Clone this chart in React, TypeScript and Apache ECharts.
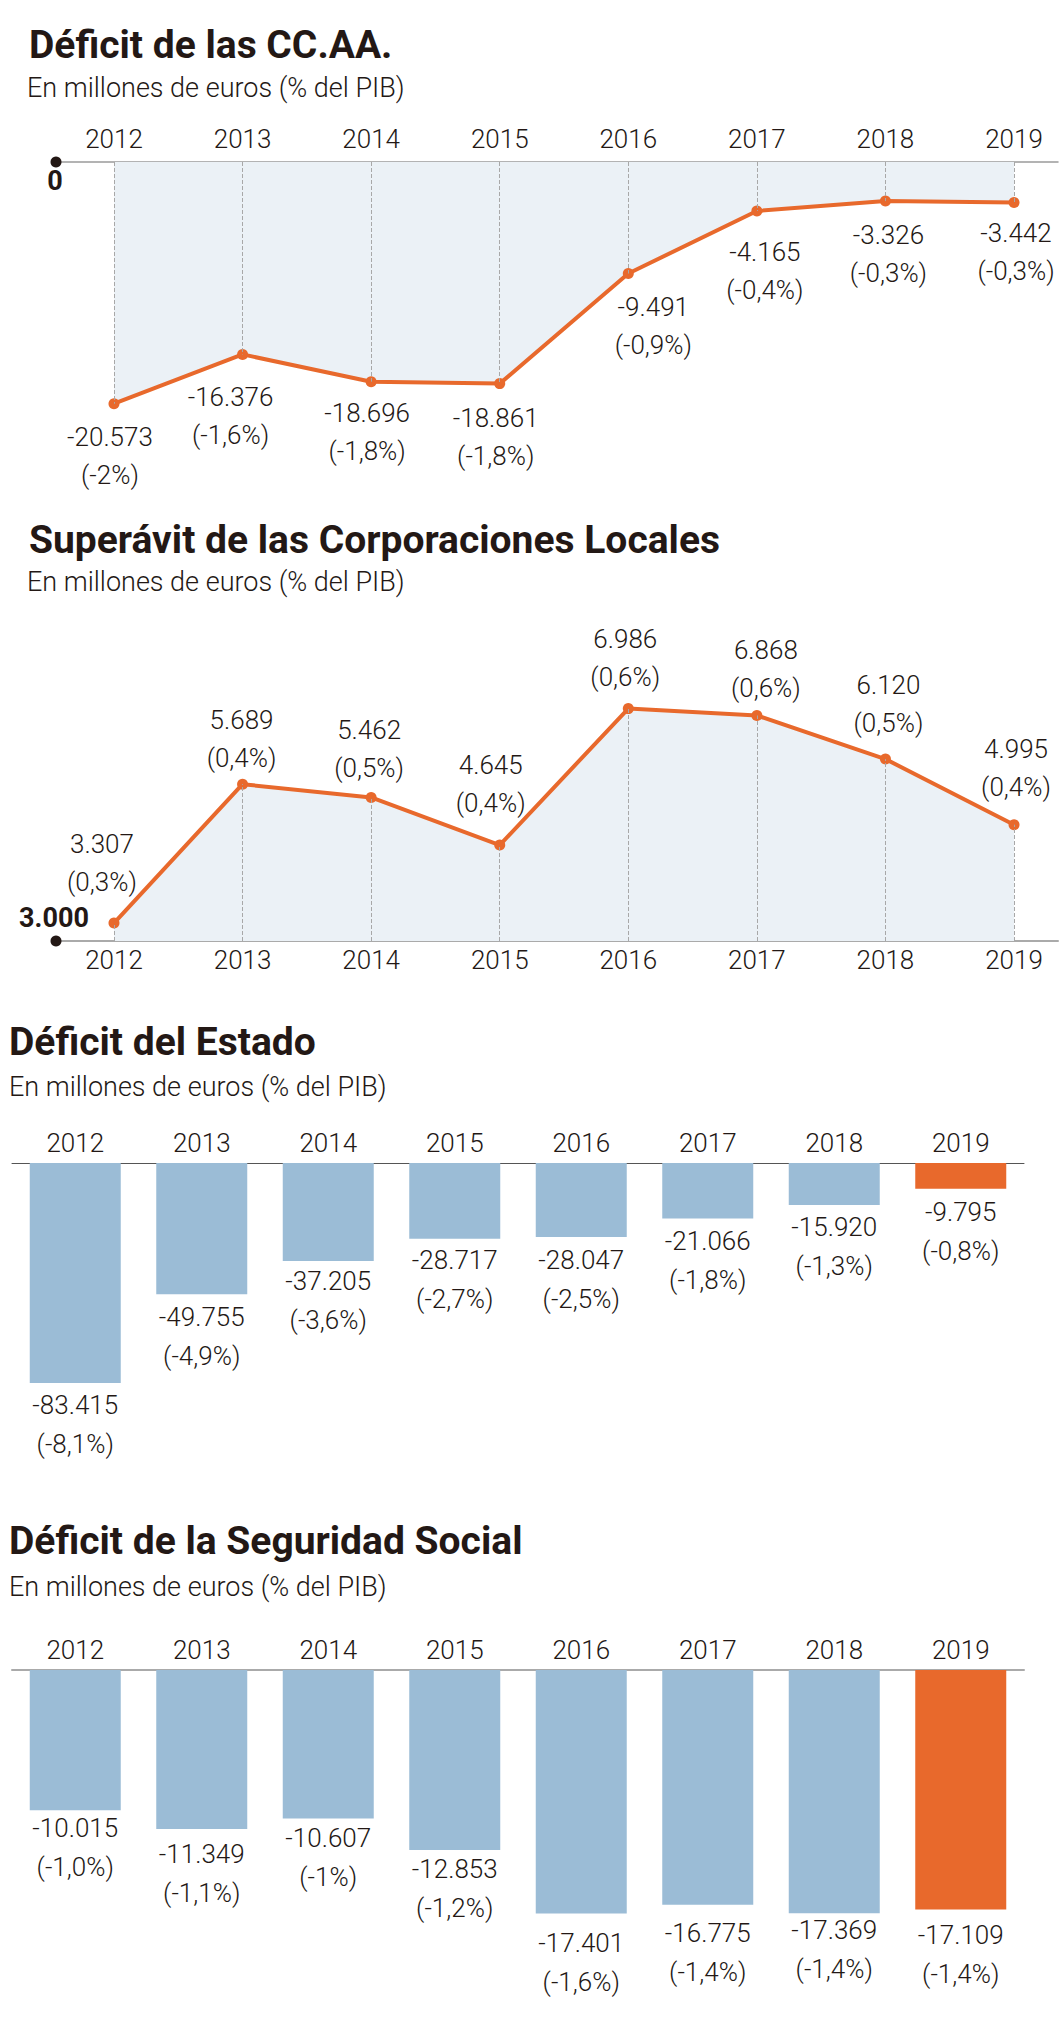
import React, { useEffect, useRef } from 'react';
import * as echarts from 'echarts';

// ---------- data ----------
const years = [2012, 2013, 2014, 2015, 2016, 2017, 2018, 2019];
const yearLabels = ['2012', '2013', '2014', '2015', '2016', '2017', '2018', '2019'];

const ccaaValues = [-20573, -16376, -18696, -18861, -9491, -4165, -3326, -3442];
const ccaaPct = ['-2%', '-1,6%', '-1,8%', '-1,8%', '-0,9%', '-0,4%', '-0,3%', '-0,3%'];

const localValues = [3307, 5689, 5462, 4645, 6986, 6868, 6120, 4995];
const localPct = ['0,3%', '0,4%', '0,5%', '0,4%', '0,6%', '0,6%', '0,5%', '0,4%'];

const estadoValues = [-83415, -49755, -37205, -28717, -28047, -21066, -15920, -9795];
const estadoPct = ['-8,1%', '-4,9%', '-3,6%', '-2,7%', '-2,5%', '-1,8%', '-1,3%', '-0,8%'];

const ssValues = [-10015, -11349, -10607, -12853, -17401, -16775, -17369, -17109];
const ssPct = ['-1,0%', '-1,1%', '-1%', '-1,2%', '-1,6%', '-1,4%', '-1,4%', '-1,4%'];

const titles = [
  'Déficit de las CC.AA.',
  'Superávit de las Corporaciones Locales',
  'Déficit del Estado',
  'Déficit de la Seguridad Social',
];
const subtitle = 'En millones de euros (% del PIB)';

// ---------- label nudges (layout only) ----------
const ccaaNudge = [[-4, 8.5], [-12, 18.5], [-4, 6.5], [-4, 9.5], [25, 8.5], [8, 16.5], [3, 9.5], [2, 6.5]];
const localNudge = [[-12, -16.5], [-1, -1.5], [-2, -4.5], [-9, -17.5], [-3, -7.5], [9, -2.5], [3, -11.5], [2, -13.5]];
const estadoNudge = [2.5, 3.5, 0.5, 1.5, 3.5, 2.5, 2.5, 3.5];
const ssNudge = [-1.5, 5.5, 0.5, -0.5, 9.5, 8.5, -2.5, 5.5];

// ---------- style ----------
const TEXT = '#231815';
const ORANGE = '#E8692C';
const BLUE = '#9BBCD6';
const FILL = '#EBF1F6';
const FONT = 'Roboto, "Noto Sans", sans-serif';
const XMIN = 2011.549;
const XMAX = 2019.342;

const fmtEs = (v: number) => {
  const s = Math.abs(v).toString().replace(/\B(?=(\d{3})+(?!\d))/g, '.');
  return (v < 0 ? '-' : '') + s;
};

const labelText = {
  fontFamily: FONT,
  fontSize: 26,
  fontWeight: 300 as any,
  color: TEXT,
};

function makeTitle(text: string, left: number, capCenter: number) {
  return {
    text,
    left,
    top: capCenter - 19.5,
    padding: 0,
    textStyle: { fontFamily: FONT, fontSize: 39, fontWeight: 'bold', color: TEXT, lineHeight: 39 },
  };
}
function makeSub(left: number, capCenter: number) {
  return {
    text: subtitle,
    left,
    top: capCenter - 13.5,
    padding: 0,
    textStyle: { fontFamily: FONT, fontSize: 27, fontWeight: 300, color: TEXT, lineHeight: 27 },
  };
}

export default function App() {
  const ref = useRef<HTMLDivElement>(null);

  useEffect(() => {
    if (!ref.current) return;
    const chart = echarts.init(ref.current, undefined, { renderer: 'svg' });

    const yearAxisLabel = (margin: number) => ({
      ...labelText,
      margin,
      lineHeight: 26,
    });

    const option: any = {
      animation: false,
      backgroundColor: '#ffffff',
      title: [
        makeTitle(titles[0], 29, 45),
        makeSub(27, 88),
        makeTitle(titles[1], 29, 540),
        makeSub(27, 582),
        makeTitle(titles[2], 9, 1042),
        makeSub(9, 1087),
        makeTitle(titles[3], 9, 1541),
        makeSub(9, 1587),
      ],
      grid: [
        { left: 56, right: 6, top: 162, height: 293.75 },
        { left: 56, right: 6, top: 649.5, height: 291.5 },
        { left: 12, right: 40, top: 1163, height: 237.3 },
        { left: 12, right: 40, top: 1670, height: 280 },
      ],
      xAxis: [
        {
          gridIndex: 0,
          type: 'value',
          position: 'top',
          min: XMIN,
          max: XMAX,
          axisLine: { show: true, onZero: false, lineStyle: { color: '#9a9a9a', width: 1.5 } },
          axisTick: { show: false },
          splitLine: { show: false },
          axisLabel: {
            ...yearAxisLabel(10),
            customValues: years,
            formatter: (v: number) => String(Math.round(v)),
          },
        },
        {
          gridIndex: 1,
          type: 'value',
          position: 'bottom',
          min: XMIN,
          max: XMAX,
          axisLine: { show: true, onZero: false, lineStyle: { color: '#aaaaaa', width: 2 } },
          axisTick: { show: false },
          splitLine: { show: false },
          axisLabel: {
            ...yearAxisLabel(6),
            customValues: years,
            formatter: (v: number) => String(Math.round(v)),
          },
        },
        {
          gridIndex: 2,
          type: 'category',
          data: yearLabels,
          position: 'top',
          boundaryGap: true,
          axisLine: { show: true, onZero: false, lineStyle: { color: '#555555', width: 1 } },
          axisTick: { show: false },
          splitLine: { show: false },
          axisLabel: { ...yearAxisLabel(7), interval: 0 },
        },
        {
          gridIndex: 3,
          type: 'category',
          data: yearLabels,
          position: 'top',
          boundaryGap: true,
          axisLine: { show: true, onZero: false, lineStyle: { color: '#aaaaaa', width: 2 } },
          axisTick: { show: false },
          splitLine: { show: false },
          axisLabel: { ...yearAxisLabel(7), interval: 0 },
        },
      ],
      yAxis: [
        {
          gridIndex: 0,
          type: 'value',
          min: -25000,
          max: 0,
          axisLine: { show: false },
          axisTick: { show: false },
          splitLine: { show: false },
          axisLabel: {
            customValues: [0],
            formatter: (v: number) => fmtEs(v),
            fontFamily: FONT,
            fontSize: 27,
            fontWeight: 'bold',
            color: TEXT,
            align: 'center',
            verticalAlign: 'top',
            lineHeight: 26,
            padding: [6, 0, 0, 0],
            margin: 1,
          },
        },
        {
          gridIndex: 1,
          type: 'value',
          min: 3000,
          max: 8000,
          axisLine: { show: false },
          axisTick: { show: false },
          splitLine: { show: false },
          axisLabel: {
            customValues: [3000],
            formatter: (v: number) => fmtEs(v),
            fontFamily: FONT,
            fontSize: 27,
            fontWeight: 'bold',
            color: TEXT,
            align: 'center',
            verticalAlign: 'bottom',
            lineHeight: 26,
            padding: [0, 0, 10, 0],
            margin: 2,
          },
        },
        {
          gridIndex: 2,
          type: 'value',
          min: -90000,
          max: 0,
          show: false,
        },
        {
          gridIndex: 3,
          type: 'value',
          min: -20000,
          max: 0,
          show: false,
        },
      ],
      series: [
        {
          type: 'line',
          xAxisIndex: 0,
          yAxisIndex: 0,
          z: 3,
          data: years.map((y, i) => ({
            value: [y, ccaaValues[i]],
            label: { offset: ccaaNudge[i] },
          })),
          symbol: 'circle',
          symbolSize: 11,
          lineStyle: { color: ORANGE, width: 4 },
          itemStyle: { color: ORANGE },
          areaStyle: { color: FILL, opacity: 1, origin: 'auto' },
          label: {
            show: true,
            position: 'bottom',
            distance: 0,
            align: 'center',
            lineHeight: 38,
            ...labelText,
            formatter: (p: any) => `${fmtEs(ccaaValues[p.dataIndex])}\n(${ccaaPct[p.dataIndex]})`,
          },
          markLine: {
            silent: true,
            symbol: ['none', 'none'],
            label: { show: false },
            lineStyle: { type: 'dashed', color: '#a8a8a8', width: 1 },
            data: years.map((y, i) => [{ coord: [y, 0] }, { coord: [y, ccaaValues[i]] }]),
          },
          markPoint: {
            silent: true,
            symbol: 'circle',
            symbolSize: 11,
            itemStyle: { color: TEXT },
            label: { show: false },
            data: [{ coord: [XMIN, 0] }],
          },
        },
        {
          type: 'line',
          xAxisIndex: 1,
          yAxisIndex: 1,
          z: 3,
          data: years.map((y, i) => ({
            value: [y, localValues[i]],
            label: { offset: localNudge[i] },
          })),
          symbol: 'circle',
          symbolSize: 11,
          lineStyle: { color: ORANGE, width: 4 },
          itemStyle: { color: ORANGE },
          areaStyle: { color: FILL, opacity: 1, origin: 'start' },
          label: {
            show: true,
            position: 'top',
            distance: 0,
            align: 'center',
            lineHeight: 38,
            ...labelText,
            formatter: (p: any) => `${fmtEs(localValues[p.dataIndex])}\n(${localPct[p.dataIndex]})`,
          },
          markLine: {
            silent: true,
            symbol: ['none', 'none'],
            label: { show: false },
            lineStyle: { type: 'dashed', color: '#a8a8a8', width: 1 },
            data: years.map((y, i) => [{ coord: [y, 3000] }, { coord: [y, localValues[i]] }]),
          },
          markPoint: {
            silent: true,
            symbol: 'circle',
            symbolSize: 11,
            itemStyle: { color: TEXT },
            label: { show: false },
            data: [{ coord: [XMIN, 3000] }],
          },
        },
        {
          type: 'bar',
          xAxisIndex: 2,
          yAxisIndex: 2,
          barWidth: 91,
          data: estadoValues.map((v, i) => ({
            value: v,
            itemStyle: { color: i === estadoValues.length - 1 ? ORANGE : BLUE },
            label: { offset: [0, estadoNudge[i]] },
          })),
          label: {
            show: true,
            position: 'bottom',
            distance: 0,
            align: 'center',
            lineHeight: 39,
            ...labelText,
            formatter: (p: any) => `${fmtEs(estadoValues[p.dataIndex])}\n(${estadoPct[p.dataIndex]})`,
          },
        },
        {
          type: 'bar',
          xAxisIndex: 3,
          yAxisIndex: 3,
          barWidth: 91,
          data: ssValues.map((v, i) => ({
            value: v,
            itemStyle: { color: i === ssValues.length - 1 ? ORANGE : BLUE },
            label: { offset: [0, ssNudge[i]] },
          })),
          label: {
            show: true,
            position: 'bottom',
            distance: 0,
            align: 'center',
            lineHeight: 39,
            ...labelText,
            formatter: (p: any) => `${fmtEs(ssValues[p.dataIndex])}\n(${ssPct[p.dataIndex]})`,
          },
        },
      ],
    };

    chart.setOption(option);
    return () => {
      chart.dispose();
    };
  }, []);

  return (
    <div
      ref={ref}
      style={{ position: 'absolute', left: 0, top: 0, width: 1064, height: 2022, background: '#ffffff' }}
    />
  );
}
